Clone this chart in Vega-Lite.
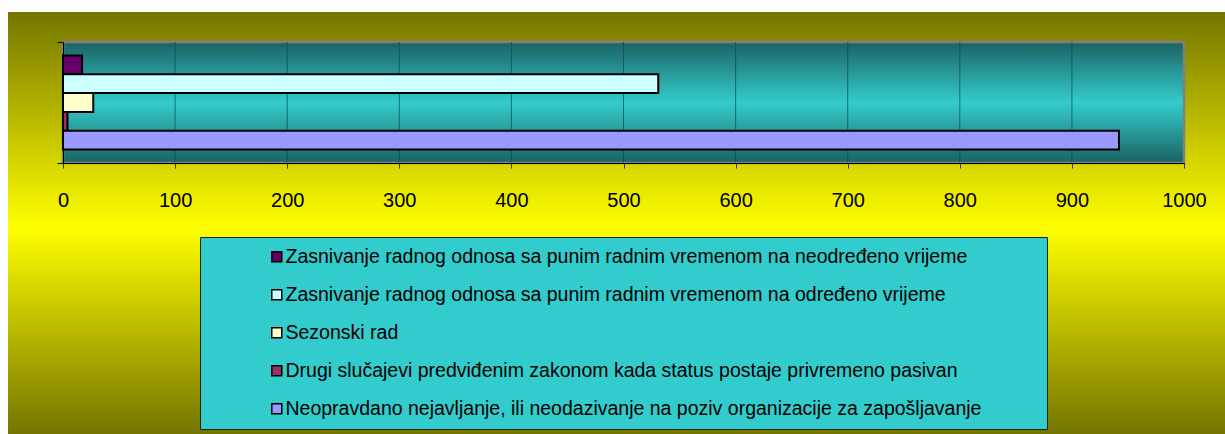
{
  "$schema": "https://vega.github.io/schema/vega-lite/v6.json",
  "width": 1217,
  "height": 422,
  "autosize": {"type": "none"},
  "padding": {"left": 8, "top": 12, "right": 0, "bottom": 0},
  "background": "white",
  "config": {"view": {"stroke": null}, "font": "Liberation Sans"},
  "data": {
    "values": [
      {"kategorija": "1", "serija": "Zasnivanje radnog odnosa sa punim radnim vremenom na neodređeno vrijeme", "vrijednost": 17},
      {"kategorija": "1", "serija": "Zasnivanje radnog odnosa sa punim radnim vremenom na određeno vrijeme", "vrijednost": 531},
      {"kategorija": "1", "serija": "Sezonski rad", "vrijednost": 27},
      {"kategorija": "1", "serija": "Drugi slučajevi predviđenim zakonom kada status postaje privremeno pasivan", "vrijednost": 4},
      {"kategorija": "1", "serija": "Neopravdano nejavljanje, ili neodazivanje na poziv organizacije za zapošljavanje", "vrijednost": 942}
    ]
  },
  "layer": [
    {
      "data": {"values": [{}]},
      "mark": {
        "type": "rect",
        "fill": {"gradient": "linear", "x1": 0, "y1": 0, "x2": 0, "y2": 1,
          "stops": [
            {"offset": 0, "color": "#747400"},
            {"offset": 0.51, "color": "#FFFF00"},
            {"offset": 1, "color": "#747400"}
          ]},
        "stroke": null
      },
      "encoding": {}
    },
    {
      "transform": [{"aggregate": [{"op": "count", "as": "n"}], "groupby": ["kategorija"]}],
      "layer": [
        {
          "mark": {
            "type": "rect",
            "fill": {"gradient": "linear", "x1": 0, "y1": 0, "x2": 0, "y2": 1,
              "stops": [
                {"offset": 0, "color": "#1C6262"},
                {"offset": 0.5, "color": "#33CCCC"},
                {"offset": 1, "color": "#1C6262"}
              ]},
            "stroke": "#808080",
            "strokeWidth": 2.5
          },
          "encoding": {
            "x": {"datum": 0, "type": "quantitative"},
            "x2": {"datum": 1000},
            "y": {"field": "kategorija", "type": "nominal"}
          }
        },
        {"mark": {"type": "tick", "color": "#124646", "thickness": 1, "size": 121}, "encoding": {"x": {"datum": 100, "type": "quantitative"}, "y": {"field": "kategorija", "type": "nominal"}}},
        {"mark": {"type": "tick", "color": "#124646", "thickness": 1, "size": 121}, "encoding": {"x": {"datum": 200, "type": "quantitative"}, "y": {"field": "kategorija", "type": "nominal"}}},
        {"mark": {"type": "tick", "color": "#124646", "thickness": 1, "size": 121}, "encoding": {"x": {"datum": 300, "type": "quantitative"}, "y": {"field": "kategorija", "type": "nominal"}}},
        {"mark": {"type": "tick", "color": "#124646", "thickness": 1, "size": 121}, "encoding": {"x": {"datum": 400, "type": "quantitative"}, "y": {"field": "kategorija", "type": "nominal"}}},
        {"mark": {"type": "tick", "color": "#124646", "thickness": 1, "size": 121}, "encoding": {"x": {"datum": 500, "type": "quantitative"}, "y": {"field": "kategorija", "type": "nominal"}}},
        {"mark": {"type": "tick", "color": "#124646", "thickness": 1, "size": 121}, "encoding": {"x": {"datum": 600, "type": "quantitative"}, "y": {"field": "kategorija", "type": "nominal"}}},
        {"mark": {"type": "tick", "color": "#124646", "thickness": 1, "size": 121}, "encoding": {"x": {"datum": 700, "type": "quantitative"}, "y": {"field": "kategorija", "type": "nominal"}}},
        {"mark": {"type": "tick", "color": "#124646", "thickness": 1, "size": 121}, "encoding": {"x": {"datum": 800, "type": "quantitative"}, "y": {"field": "kategorija", "type": "nominal"}}},
        {"mark": {"type": "tick", "color": "#124646", "thickness": 1, "size": 121}, "encoding": {"x": {"datum": 900, "type": "quantitative"}, "y": {"field": "kategorija", "type": "nominal"}}}
      ]
    },
    {
      "mark": {"type": "bar", "stroke": "black", "strokeWidth": 2},
      "encoding": {
        "y": {
          "field": "kategorija", "type": "nominal",
          "scale": {"range": [30, 151], "paddingInner": 0, "paddingOuter": 0},
          "axis": {"orient": "left", "offset": -55, "labels": false, "ticks": true, "tickBand": "extent", "tickSize": 6, "tickColor": "black", "domain": true, "domainColor": "black", "grid": false, "title": null, "zindex": 1}
        },
        "yOffset": {
          "field": "serija", "type": "nominal",
          "sort": [
            "Zasnivanje radnog odnosa sa punim radnim vremenom na neodređeno vrijeme",
            "Zasnivanje radnog odnosa sa punim radnim vremenom na određeno vrijeme",
            "Sezonski rad",
            "Drugi slučajevi predviđenim zakonom kada status postaje privremeno pasivan",
            "Neopravdano nejavljanje, ili neodazivanje na poziv organizacije za zapošljavanje"
          ],
          "scale": {"paddingInner": 0, "paddingOuter": 0.72}
        },
        "x": {
          "field": "vrijednost", "type": "quantitative",
          "scale": {"domain": [0, 1000], "range": [55, 1176], "nice": false},
          "axis": {"values": [0, 100, 200, 300, 400, 500, 600, 700, 800, 900, 1000], "format": "d", "offset": -271, "grid": false, "domainColor": "black", "tickColor": "#333333", "tickSize": 5, "labelFontSize": 20, "labelFont": "Liberation Sans", "labelColor": "black", "labelPadding": 22, "labelFlush": false, "labelOverlap": false, "title": null, "zindex": 1}
        },
        "color": {
          "field": "serija", "type": "nominal",
          "scale": {
            "domain": [
              "Zasnivanje radnog odnosa sa punim radnim vremenom na neodređeno vrijeme",
              "Zasnivanje radnog odnosa sa punim radnim vremenom na određeno vrijeme",
              "Sezonski rad",
              "Drugi slučajevi predviđenim zakonom kada status postaje privremeno pasivan",
              "Neopravdano nejavljanje, ili neodazivanje na poziv organizacije za zapošljavanje"
            ],
            "range": ["#660066", "#CCFFFF", "#FFFFCC", "#993366", "#9999FF"]
          },
          "legend": {
            "orient": "none", "legendX": 192, "legendY": 225,
            "direction": "vertical",
            "fillColor": "#33CCCC", "strokeColor": "#222222",
            "padding": 10, "rowPadding": 17,
            "symbolType": "square", "symbolSize": 100, "symbolStrokeColor": "black", "symbolStrokeWidth": 1.5, "symbolOpacity": 1,
            "symbolOffset": 57,
            "labelFont": "Liberation Sans", "labelFontSize": 19.5, "labelColor": "black", "labelLimit": 1000, "labelOffset": -1,
            "title": " ", "titleOrient": "right", "titleFontSize": 1, "titlePadding": 56
          }
        }
      }
    }
  ]
}
